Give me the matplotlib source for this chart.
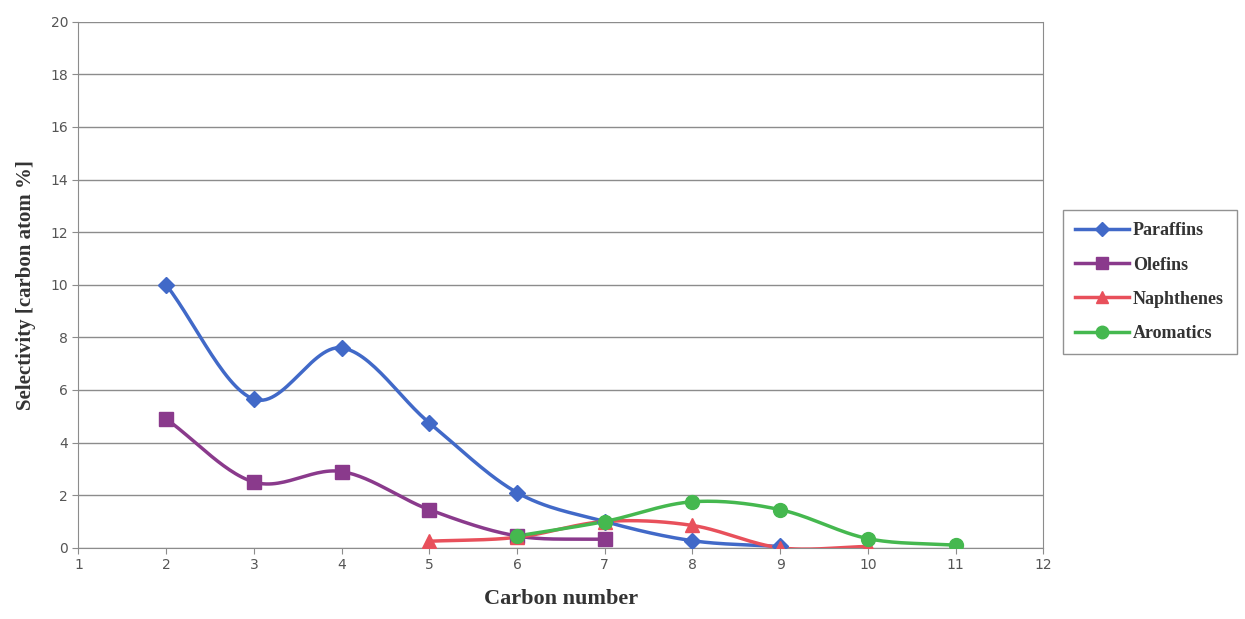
import numpy as np
import matplotlib
matplotlib.use("Agg")
import matplotlib.pyplot as plt

# Data
paraffins_x = [2, 3, 4, 5, 6, 7, 8, 9]
paraffins_y = [10.0, 5.65, 7.6, 4.75, 2.1, 1.0, 0.27, 0.05]

olefins_x = [2, 3, 4, 5, 6, 7]
olefins_y = [4.9, 2.5, 2.9, 1.45, 0.45, 0.32]

naphthenes_x = [5, 6, 7, 8, 9, 10]
naphthenes_y = [0.25, 0.4, 1.0, 0.85, 0.0, 0.05]

aromatics_x = [6, 7, 8, 9, 10, 11]
aromatics_y = [0.45, 1.0, 1.75, 1.45, 0.35, 0.1]


def smooth(x, y, n=30):
    # Catmull-Rom curve through the points, like Excel's smoothed lines
    x = np.asarray(x, float)
    y = np.asarray(y, float)
    px = np.concatenate([[2 * x[0] - x[1]], x, [2 * x[-1] - x[-2]]])
    py = np.concatenate([[2 * y[0] - y[1]], y, [2 * y[-1] - y[-2]]])
    xs, ys = [], []
    t = np.linspace(0, 1, n)
    for i in range(1, len(px) - 2):
        for p, out in ((px, xs), (py, ys)):
            p0, p1, p2, p3 = p[i - 1], p[i], p[i + 1], p[i + 2]
            out.extend(0.5 * ((2 * p1) + (-p0 + p2) * t
                              + (2 * p0 - 5 * p1 + 4 * p2 - p3) * t ** 2
                              + (-p0 + 3 * p1 - 3 * p2 + p3) * t ** 3))
    return xs, ys


fig = plt.figure(figsize=(12.45, 6.19), dpi=100)
ax = fig.add_axes([0.063, 0.115, 0.775, 0.85])

series = [
    ("Paraffins", paraffins_x, paraffins_y, "#4169c8", "D", 8),
    ("Olefins", olefins_x, olefins_y, "#8a3a8c", "s", 10),
    ("Naphthenes", naphthenes_x, naphthenes_y, "#e8505b", "^", 10),
    ("Aromatics", aromatics_x, aromatics_y, "#45b84f", "o", 10),
]

for name, xs, ys, col, mk, ms in series:
    sx, sy = smooth(xs, ys)
    ax.plot(sx, sy, color=col, lw=2.5, zorder=3)
    ax.plot(xs, ys, linestyle="none", marker=mk, ms=ms, color=col, zorder=4)
    ax.plot([], [], color=col, lw=2.5, marker=mk, ms=ms - 1, label=name)

ax.set_xlim(1, 12)
ax.set_ylim(0, 20)
ax.set_xticks(range(1, 13))
ax.set_yticks(range(0, 21, 2))
ax.grid(axis="y", color="#8c8c8c", lw=1)
ax.set_axisbelow(True)
for s in ax.spines.values():
    s.set_color("#8c8c8c")
ax.spines["top"].set_visible(False)
ax.tick_params(colors="#8c8c8c", labelcolor="#555555", labelsize=10, length=4)

ax.set_xlabel("Carbon number", family="Liberation Serif", fontweight="bold",
              fontsize=16, color="#333333", labelpad=12)
ax.set_ylabel("Selectivity [carbon atom %]", family="Liberation Serif",
              fontweight="bold", fontsize=15, color="#333333", labelpad=10)

leg = ax.legend(loc="center left", bbox_to_anchor=(1.02, 0.505), frameon=True,
                fancybox=False, edgecolor="#777777",
                prop={"family": "Liberation Serif", "weight": "bold", "size": 13},
                handlelength=3.0, labelspacing=0.95, borderpad=0.7, handletextpad=0.2,
                borderaxespad=0)
for t in leg.get_texts():
    t.set_color("#333333")

plt.savefig("out.png", dpi=100)
